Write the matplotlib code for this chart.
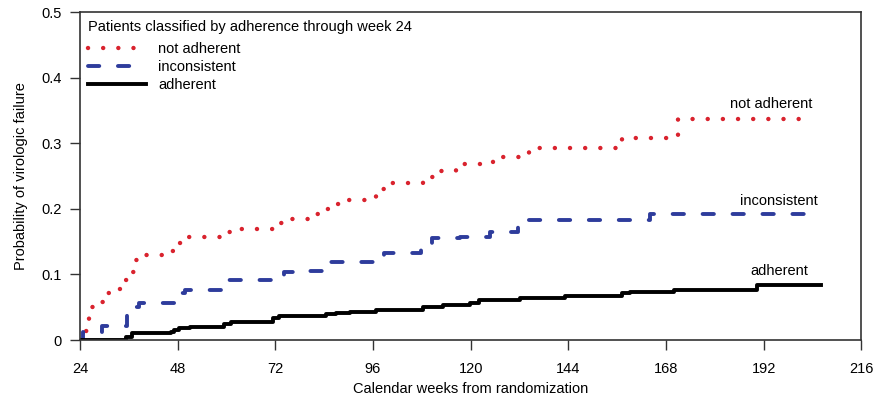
import matplotlib.pyplot as plt

plt.rcParams['font.family'] = ['Liberation Sans', 'DejaVu Sans']

# Kaplan-Meier style cumulative failure (week, probability)
nonadh_weeks = [24, 25.6, 26.2, 26.7, 29.3, 30.9, 33.6, 35.2, 36.7, 37.5, 39.9, 46.1,
                47.6, 50, 59.6, 62.5, 72.3, 74.8, 80.9, 83.5, 86, 88.4, 96.8, 99.1,
                108.4, 110.9, 116.3, 125.5, 134.3, 155.7, 157.3, 170.9, 171, 201]
nonadh_prob = [0, 0.014, 0.034, 0.05, 0.058, 0.071, 0.078, 0.091, 0.104, 0.122, 0.13,
               0.136, 0.148, 0.157, 0.165, 0.17, 0.178, 0.184, 0.192, 0.199, 0.207,
               0.214, 0.23, 0.239, 0.249, 0.257, 0.268, 0.279, 0.292, 0.296, 0.308,
               0.316, 0.337, 0.337]

incons_weeks = [24, 24.8, 29.5, 35.6, 37, 38.5, 47.6, 48.4, 49.8, 59.2, 59.6, 71.8, 72.6,
                74.2, 79.6, 83.6, 84.1, 85.3, 96.4, 97.2, 98.8, 107.9, 109.1, 110.4,
                117.3, 124.7, 131.6, 132.6, 164, 205]
incons_prob = [0, 0.013, 0.022, 0.043, 0.051, 0.056, 0.064, 0.072, 0.077, 0.079, 0.092,
               0.093, 0.099, 0.104, 0.106, 0.109, 0.114, 0.119, 0.122, 0.126, 0.132,
               0.137, 0.147, 0.155, 0.157, 0.164, 0.173, 0.183, 0.192, 0.192]

adh_weeks = [24, 35.3, 36.9, 46.4, 47.2, 48.4, 51, 59.5, 61.1, 71.4, 73, 84.5, 87, 90.3,
             96.8, 108.3, 113.2, 119.8, 122.1, 132.1, 143.2, 157.2, 159.2, 169.9,
             190.3, 206]
adh_prob = [0, 0.005, 0.01, 0.013, 0.016, 0.018, 0.02, 0.024, 0.028, 0.033, 0.036,
            0.039, 0.041, 0.043, 0.046, 0.051, 0.053, 0.056, 0.061, 0.0645, 0.0675,
            0.071, 0.0725, 0.076, 0.084, 0.084]

x_ticks = [24, 48, 72, 96, 120, 144, 168, 192, 216]
y_ticks = [0, 0.1, 0.2, 0.3, 0.4, 0.5]
y_ticklabels = ['0', '0.1', '0.2', '0.3', '0.4', '0.5']

red = '#d9232e'
blue = '#2e3c9c'
fs = 10.5

fig = plt.figure(figsize=(8.75, 4.01), dpi=100)
ax = fig.add_axes([0.0914, 0.152, 0.893, 0.818])

ax.plot(nonadh_weeks, nonadh_prob, drawstyle='steps-post', color=red, lw=3.2,
        linestyle=(0, (0.01, 3.4)), dash_capstyle='round', label='not adherent')
ax.plot(incons_weeks, incons_prob, drawstyle='steps-post', color=blue, lw=2.8,
        linestyle=(0, (2.9, 4.8)), dash_capstyle='round', label='inconsistent')
ax.plot(adh_weeks, adh_prob, drawstyle='steps-post', color='black', lw=2.8,
        label='adherent')

ax.text(204, 0.36, 'not adherent', ha='right', va='center', fontsize=fs)
ax.text(205.4, 0.212, 'inconsistent', ha='right', va='center', fontsize=fs)
ax.text(203, 0.105, 'adherent', ha='right', va='center', fontsize=fs)

ax.set_xlim(24, 216)
ax.set_ylim(0, 0.5)
ax.set_xticks(x_ticks)
ax.set_yticks(y_ticks)
ax.set_yticklabels(y_ticklabels)
ax.tick_params(direction='out', length=7, labelsize=fs, width=1, pad=6,
               color='#333333')
ax.tick_params(axis='x', pad=9)
ax.set_xlabel('Calendar weeks from randomization', fontsize=fs, labelpad=4)
ax.set_ylabel('Probability of virologic failure', fontsize=fs, labelpad=10)
for s in ax.spines.values():
    s.set_linewidth(1.2)
    s.set_color('#333333')

leg = ax.legend(loc='upper left', frameon=False, fontsize=fs,
                title='Patients classified by adherence through week 24',
                title_fontsize=fs, handlelength=4.0, labelspacing=0.25,
                borderaxespad=0.15, handletextpad=0.8)
leg._legend_box.align = 'left'
leg._legend_box.sep = 6

fig.savefig('out.png', dpi=100)
